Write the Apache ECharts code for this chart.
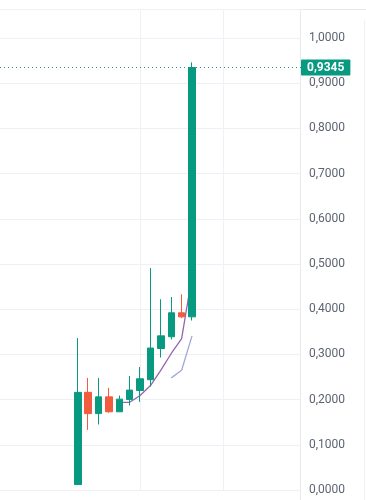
<!DOCTYPE html>
<html>
<head>
<meta charset="utf-8">
<script src="https://cdn.jsdelivr.net/npm/echarts@6/dist/echarts.min.js"></script>
<style>
html,body{margin:0;padding:0;background:#fff;}
#c{width:366px;height:500px;}
</style>
</head>
<body>
<div id="c"></div>
<script>
// Bar slots (x categories); empty slots have no trading data
var categories = ['1','2','3','4','5','6','7','8','9','10','11','12','13','14','15','16','17','18','19','20','21','22','23','24','25','26','27','28','29'];
var _ = null;
var opens  = [_,_,_,_,_,_,_, 0.012,0.216,0.169,0.206,0.173,0.200,0.220,0.244,0.313,0.339,0.392,0.383, _,_,_,_,_,_,_,_,_,_];
var closes = [_,_,_,_,_,_,_, 0.216,0.169,0.206,0.173,0.201,0.221,0.246,0.314,0.341,0.392,0.383,0.9345, _,_,_,_,_,_,_,_,_,_];
var lows   = [_,_,_,_,_,_,_, 0.011,0.133,0.145,0.171,0.173,0.187,0.195,0.229,0.293,0.333,0.380,0.375, _,_,_,_,_,_,_,_,_,_];
var highs  = [_,_,_,_,_,_,_, 0.336,0.248,0.248,0.226,0.209,0.252,0.272,0.491,0.422,0.427,0.433,0.946, _,_,_,_,_,_,_,_,_,_];
var ma5    = [_,_,_,_,_,_,_, _,_,_,_,0.194,0.194,0.209,0.231,0.265,0.302,0.335,0.473, _,_,_,_,_,_,_,_,_,_];
var ma10   = [_,_,_,_,_,_,_, _,_,_,_,_,_,_,_,_,0.248,0.265,0.341, _,_,_,_,_,_,_,_,_,_];
var lastPrice = 0.9345;
var yTicks = { min: 0, max: 1.064, step: 0.1 };
var vGridAt = ['14','22'];

var UP = '#089981', DOWN = '#f25b3d';
var candleData = categories.map(function(c, i){
  return opens[i] == null ? '-' : [opens[i], closes[i], lows[i], highs[i]];
});
function lineData(arr){ return arr.map(function(v){ return v == null ? '-' : v; }); }
function fmt(v){ return v.toFixed(4).replace('.', ','); }

var chart = echarts.init(document.getElementById('c'), null, {renderer:'canvas'});
chart.setOption({
  animation: false,
  backgroundColor: '#ffffff',
  grid: { left: 0, right: 65, top: 9, bottom: 10, containLabel: false },
  xAxis: {
    type: 'category', data: categories, boundaryGap: true,
    axisLine: {show:false}, axisTick: {show:false}, axisLabel: {show:false},
    splitLine: {show:false}
  },
  yAxis: {
    type: 'value', position: 'right', min: yTicks.min, max: yTicks.max, interval: yTicks.step,
    axisLine: {show:false}, axisTick: {show:false},
    axisLabel: { show: true, showMaxLabel: false, margin: 8, color: '#5d6470', fontSize: 12,
      fontFamily: 'Roboto, sans-serif', formatter: function(v){ return fmt(v); } },
    splitLine: { show: true, lineStyle: { color: '#eef0f5', width: 1 } }
  },
  graphic: [
    { type: 'line', shape: {x1: 0, y1: 9.5, x2: 366, y2: 9.5}, style: {stroke: '#e6e8ee', lineWidth: 1}, silent: true },
    { type: 'line', shape: {x1: 300.5, y1: 9, x2: 300.5, y2: 500}, style: {stroke: '#e6e8ee', lineWidth: 1}, silent: true },
    { type: 'line', shape: {x1: 364.5, y1: 20, x2: 364.5, y2: 500}, style: {stroke: '#f0f1f4', lineWidth: 1}, silent: true }
  ],
  series: [
    {
      type: 'line', data: lineData(ma10), showSymbol: false, z: 3,
      lineStyle: { color: '#a3a7d6', width: 1.3 }, connectNulls: false
    },
    {
      type: 'line', data: lineData(ma5), showSymbol: false, z: 3,
      lineStyle: { color: '#9566ad', width: 1.3 }, connectNulls: false,
      markLine: {
        silent: true, symbol: ['none','none'], z: 1,
        lineStyle: { color: '#f2f0f6', width: 1, type: 'solid' },
        label: { show: false },
        data: vGridAt.map(function(c){ return { xAxis: c }; })
      }
    },
    {
      type: 'candlestick', data: candleData, barWidth: 7, z: 5,
      itemStyle: { color: UP, color0: DOWN, borderColor: UP, borderColor0: DOWN, borderWidth: 1 },
      markLine: {
        silent: true, symbol: ['none','none'], z: 6, precision: 4,
        lineStyle: { color: '#1b8f85', width: 1, type: [1, 3] },
        label: {
          show: true, position: 'end', distance: 0,
          formatter: function(){ return fmt(lastPrice); },
          backgroundColor: UP, color: '#ffffff', fontWeight: 'bold', fontSize: 12,
          fontFamily: 'Roboto, sans-serif', padding: [2, 6, 2, 6], borderRadius: 1
        },
        data: [{ yAxis: lastPrice }]
      }
    }
  ]
});
</script>
</body>
</html>
